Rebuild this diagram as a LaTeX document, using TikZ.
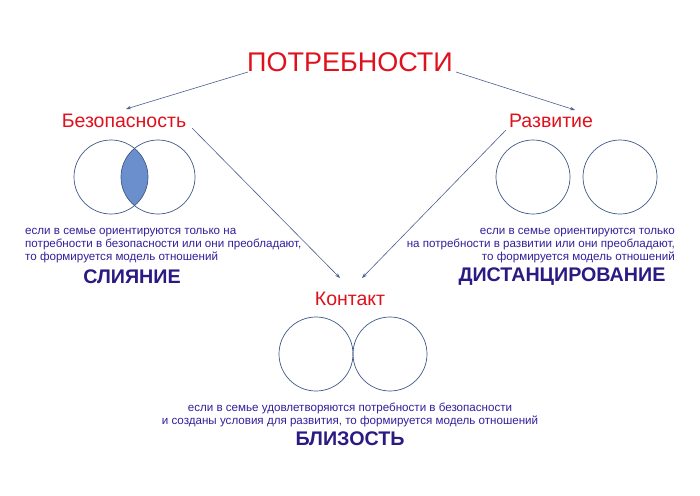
\documentclass[tikz,border=0pt]{standalone}
\usepackage{fontspec}
\setmainfont{Liberation Sans}
\usetikzlibrary{arrows.meta}
\begin{document}
\begin{tikzpicture}[x=1pt,y=-1pt,
  title/.style={text=redc, font=\fontsize{27}{30}\selectfont, inner sep=1pt},
  head/.style={text=redc, font=\fontsize{19.5}{22}\selectfont, inner sep=1pt},
  para/.style={text=txtblue, font=\fontsize{11.6}{13}\selectfont, inner sep=0pt},
  big/.style={text=hdblue, font=\bfseries\fontsize{19.7}{22}\selectfont, inner sep=0pt},
  ring/.style={draw=ringc, line width=0.7pt},
  conn/.style={draw=arrc, line width=0.6pt, -{Stealth[length=5pt,width=3.5pt]}}]
\definecolor{redc}{HTML}{E0101C}
\definecolor{txtblue}{HTML}{33209A}
\definecolor{hdblue}{HTML}{2A1A82}
\definecolor{ringc}{HTML}{405A88}
\definecolor{arrc}{HTML}{4A6090}
\definecolor{lensc}{HTML}{6A8FCC}
\useasboundingbox (0,0) rectangle (700,495);
\fill[white] (0,0) rectangle (700,495);

\node[title] (pot) at (350,62) {ПОТРЕБНОСТИ};
\node[head] (bez) at (124,121) {Безопасность};
\node[head] (raz) at (551,121) {Развитие};
\node[head] (kon) at (350,299) {Контакт};

\coordinate (potL) at (248,72);
\coordinate (potR) at (456,72);
\coordinate (bezT) at (126,109);
\coordinate (razT) at (575,110);
\coordinate (bezR) at (192,128);
\coordinate (razL) at (506,130);
\coordinate (konL) at (340,278);
\coordinate (konR) at (362,278);

\draw[conn] (potL) -- (bezT);
\draw[conn] (potR) -- (razT);
\draw[conn] (bezR) -- (konL);
\draw[conn] (razL) -- (konR);

% left venn
\coordinate (c1) at (111,177);
\coordinate (c2) at (158,177);
\begin{scope}
  \clip (c1) circle (37);
  \fill[lensc] (c2) circle (37);
\end{scope}
\draw[ring] (c1) circle (37);
\draw[ring] (c2) circle (37);

% right circles
\coordinate (c3) at (533,177);
\coordinate (c4) at (620,177);
\draw[ring] (c3) circle (37);
\draw[ring] (c4) circle (37);

% bottom circles
\coordinate (c5) at (316,354);
\coordinate (c6) at (390,354);
\draw[ring] (c5) circle (37);
\draw[ring] (c6) circle (37);

% texts
\node[para, anchor=north west, align=left] (tl) at (25,228.5)
  {если в семье ориентируются только на\\потребности в безопасности или они преобладают,\\то формируется модель отношений};
\node[big] (sl) at (132,277) {СЛИЯНИЕ};

\node[para, anchor=north east, align=right] (tr) at (675,228.5)
  {если в семье ориентируются только\\на потребности в развитии или они преобладают,\\то формируется модель отношений};
\node[big] (di) at (562,277) {ДИСТАНЦИРОВАНИЕ};

\node[para, anchor=north, align=center] (tb) at (350,403)
  {если в семье удовлетворяются потребности в безопасности\\и созданы условия для развития, то формируется модель отношений};
\node[big] (bl) at (350,439) {БЛИЗОСТЬ};
\end{tikzpicture}
\end{document}
